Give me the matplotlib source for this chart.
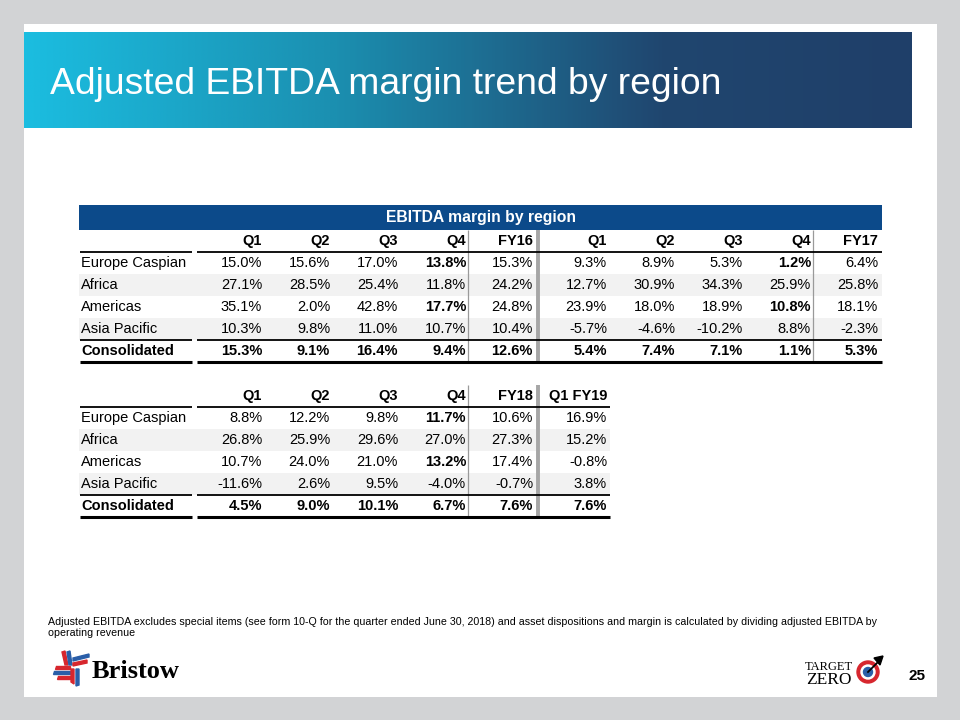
import numpy as np
import matplotlib
matplotlib.use("Agg")
import matplotlib.pyplot as plt
from matplotlib.patches import Rectangle, Polygon, Circle
from matplotlib.colors import LinearSegmentedColormap

plt.rcParams['font.family'] = ['Liberation Sans', 'DejaVu Sans']

# ---- data ----
regions = ["Europe Caspian", "Africa", "Americas", "Asia Pacific", "Consolidated"]

cols_fy16_17 = ["Q1", "Q2", "Q3", "Q4", "FY16", "Q1", "Q2", "Q3", "Q4", "FY17"]
europe_16_17 = [15.0, 15.6, 17.0, 13.8, 15.3, 9.3, 8.9, 5.3, 1.2, 6.4]
africa_16_17 = [27.1, 28.5, 25.4, 11.8, 24.2, 12.7, 30.9, 34.3, 25.9, 25.8]
americas_16_17 = [35.1, 2.0, 42.8, 17.7, 24.8, 23.9, 18.0, 18.9, 10.8, 18.1]
asia_16_17 = [10.3, 9.8, 11.0, 10.7, 10.4, -5.7, -4.6, -10.2, 8.8, -2.3]
consol_16_17 = [15.3, 9.1, 16.4, 9.4, 12.6, 5.4, 7.4, 7.1, 1.1, 5.3]

cols_fy18_19 = ["Q1", "Q2", "Q3", "Q4", "FY18", "Q1 FY19"]
europe_18_19 = [8.8, 12.2, 9.8, 11.7, 10.6, 16.9]
africa_18_19 = [26.8, 25.9, 29.6, 27.0, 27.3, 15.2]
americas_18_19 = [10.7, 24.0, 21.0, 13.2, 17.4, -0.8]
asia_18_19 = [-11.6, 2.6, 9.5, -4.0, -0.7, 3.8]
consol_18_19 = [4.5, 9.0, 10.1, 6.7, 7.6, 7.6]

title = "Adjusted EBITDA margin trend by region"
table_title = "EBITDA margin by region"
footnote_1 = ("Adjusted EBITDA excludes special items (see form 10-Q for the quarter ended June 30, 2018) "
              "and asset dispositions and margin is calculated by dividing adjusted EBITDA by")
footnote_2 = "operating revenue"
page_no = "25"

fig = plt.figure(figsize=(9.6, 7.2), dpi=100)
fig.patch.set_facecolor('#d2d3d5')
ax = fig.add_axes([0, 0, 1, 1])
ax.axis('off')

# slide
ax.add_patch(Rectangle((24, 24), 913, 673, facecolor='white', edgecolor='none'))

# title bar with gradient
cmap = LinearSegmentedColormap.from_list('bar', [(0, '#1bbde0'), (0.35, '#1b8fb0'),
                                                 (0.72, '#20466f'), (1, '#1f3f69')])
grad = np.linspace(0, 1, 400).reshape(1, -1)
ax.imshow(grad, cmap=cmap, extent=[24, 912, 128, 32], aspect='auto', zorder=1)
ax.text(50, 94, title, color='white', fontsize=26.8, va='baseline', ha='left', zorder=2)
ax.set_xlim(0, 960)
ax.set_ylim(720, 0)

shade = '#f2f2f2'
fs = 10.5
col_x = [262, 330, 398, 466, 533, 607, 675, 743, 811, 878]


def draw_table(top, left, right, label_end, col_right, cols, rows, bold_col, thin_lines, thick_lines):
    rh = 22
    hdr_y = top + rh / 2
    row_ys = [top + rh * (i + 1.5) for i in range(len(rows))]
    # shaded rows
    for i in (1, 3):
        ax.add_patch(Rectangle((left, top + rh * (i + 1)), right - left, rh,
                               facecolor=shade, edgecolor='none', zorder=1))
    for c, x in zip(cols, col_right):
        ax.text(x, hdr_y, c, fontsize=fs, fontweight='bold', ha='right', va='center', zorder=3)
    for i, (name, vals) in enumerate(zip(regions, rows)):
        last = i == len(rows) - 1
        ax.text(left + 2, row_ys[i], name, fontsize=fs, ha='left', va='center',
                fontweight='bold' if last else 'normal', zorder=3)
        for j, (v, x) in enumerate(zip(vals, col_right)):
            bold = last or (j in bold_col and i in (0, 2))
            ax.text(x, row_ys[i], f"{v:.1f}%", fontsize=fs, ha='right', va='center',
                    fontweight='bold' if bold else 'normal', zorder=3)
    # horizontal rules with gap after label column
    for y, lw in ((top + rh, 1.3), (top + rh * 5, 1.3), (top + rh * 6, 2.2)):
        ax.plot([left + 1, label_end], [y, y], color='black', lw=lw, solid_capstyle='butt', zorder=4)
        ax.plot([label_end + 5, right], [y, y], color='black', lw=lw, solid_capstyle='butt', zorder=4)
    for x in thin_lines:
        ax.plot([x, x], [top, top + rh * 6], color='#9a9a9a', lw=0.9,
                solid_capstyle='butt', zorder=2)
    for x in thick_lines:
        ax.plot([x, x], [top, top + rh * 6], color='#a6a6a6', lw=2.8,
                solid_capstyle='butt', zorder=2)


# table 1
ax.add_patch(Rectangle((79, 205), 803, 25, facecolor='#0c4a8a', edgecolor='none', zorder=1))
ax.text(481, 217.5, table_title, color='white', fontsize=11.3, fontweight='bold',
        ha='center', va='center', zorder=3)
rows1 = [europe_16_17, africa_16_17, americas_16_17, asia_16_17, consol_16_17]
draw_table(230, 79, 882, 192, col_x, cols_fy16_17, rows1, (3, 8), [468, 813], [538])

# table 2 (same column grid as table 1)
rows2 = [europe_18_19, africa_18_19, americas_18_19, asia_18_19, consol_18_19]
draw_table(385, 79, 610, 192, col_x[:6], cols_fy18_19, rows2, (3,), [468], [538])

# footnote
ax.text(48, 625, footnote_1, fontsize=7.7, ha='left', va='baseline')
ax.text(48, 636, footnote_2, fontsize=7.7, ha='left', va='baseline')

# Bristow logo (simplified pinwheel)
red, blue = '#d7262e', '#2a5ea8'
# up arm
ax.add_patch(Polygon([[62, 652], [65, 651], [68, 665], [65, 665]], color=red))
ax.add_patch(Polygon([[67, 652], [70, 651], [72, 665], [69, 665]], color=blue))
# right arm
ax.add_patch(Polygon([[73, 658], [89, 654], [89, 657], [73, 661]], color=blue))
ax.add_patch(Polygon([[73, 663], [87, 660], [87, 663], [73, 666]], color=red))
# left arm
ax.add_patch(Polygon([[56, 666], [70, 666], [70, 669], [55, 669]], color=red))
ax.add_patch(Polygon([[54, 671], [70, 671], [70, 674], [53, 674]], color=blue))
ax.add_patch(Polygon([[58, 676], [70, 676], [70, 679], [57, 679]], color=red))
# down arm
ax.add_patch(Polygon([[71, 669], [74, 669], [74, 684], [71, 682]], color=red))
ax.add_patch(Polygon([[76, 669], [79, 669], [79, 685], [76, 686]], color=blue))
ax.text(92, 671, "Bristow", fontsize=19, fontweight='bold', family='Liberation Serif',
        ha='left', va='center')

# Target Zero logo
ax.text(805, 670, "TARGET", fontsize=9, family='Liberation Serif', ha='left', va='baseline')
ax.text(806, 683.5, "ZERO", fontsize=12.5, family='Liberation Serif', ha='left', va='baseline')
ax.add_patch(Circle((868, 672), 11, color=red, zorder=3))
ax.add_patch(Circle((868, 672), 7, color='white', zorder=4))
ax.add_patch(Circle((868, 672), 4.5, color=blue, zorder=5))
ax.plot([868, 880], [672, 660], color='black', lw=1.3, zorder=6)
ax.add_patch(Polygon([[883, 656], [874, 658], [880, 665]], color='black', zorder=6))

ax.text(917, 676, page_no, fontsize=11, fontweight='bold', ha='center', va='center')

fig.savefig("out.png", dpi=100, facecolor=fig.get_facecolor())
